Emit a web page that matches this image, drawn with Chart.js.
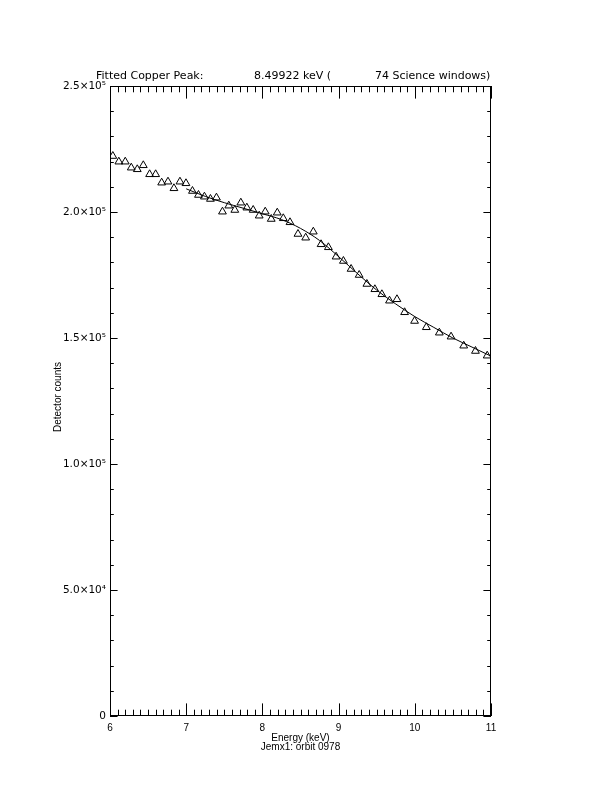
<!DOCTYPE html>
<html>
<head>
<meta charset="utf-8">
<script src="https://cdn.jsdelivr.net/npm/chart.js@4/dist/chart.umd.min.js"></script>
<style>
  html, body { margin: 0; padding: 0; background: #fff; }
  canvas { display: block; }
</style>
</head>
<body>
<canvas id="copperChart" width="612" height="792"></canvas>
<script>
// measured spectrum (keV, detector counts)
const energy = [
  6.037, 6.116, 6.200, 6.279, 6.358, 6.437, 6.520, 6.599, 6.678, 6.761,
  6.839, 6.918, 6.997, 7.082, 7.161, 7.239, 7.318, 7.397, 7.476, 7.559,
  7.638, 7.717, 7.796, 7.879, 7.958, 8.037, 8.116, 8.195, 8.274, 8.362,
  8.467, 8.568, 8.668, 8.770, 8.866, 8.967, 9.063, 9.164, 9.270, 9.371,
  9.476, 9.568, 9.668, 9.766, 9.866, 9.997, 10.151, 10.322, 10.476, 10.642,
  10.796, 10.950
];
const counts = [
  222200, 219960, 219960, 217580, 216940, 218530, 214960, 214960, 211630, 212020,
  209400, 212020, 211390, 208330, 206750, 206070, 205160, 205680, 200120, 202500,
  200790, 203690, 201710, 200790, 198530, 200120, 197220, 199720, 197500, 195910,
  191270, 189800, 192180, 187180, 185990, 182260, 180560, 177380, 175000, 171430,
  169330, 167340, 164800, 165360, 160200, 156750, 154250, 152100, 150520, 146940,
  144840, 142980
];

// fitted curve
const fitEnergy = [7.0, 7.25, 7.5, 7.75, 8.0, 8.25, 8.5, 8.75, 9.0, 9.25, 9.5, 9.75, 10.0, 10.25, 10.5, 10.75, 11.0];
const fitCounts = [209200, 206200, 203700, 201500, 199300, 197000, 193500, 188700, 182300, 175500, 169000, 163500, 158500, 154200, 150000, 146400, 142800];

const xTickValues = [6, 7, 8, 9, 10, 11];
const xTickLabels = ['6', '7', '8', '9', '10', '11'];
const yTickValues = [0, 50000, 100000, 150000, 200000, 250000];
const yTickLabels = ['0', '5.0×10⁴', '1.0×10⁵', '1.5×10⁵', '2.0×10⁵', '2.5×10⁵'];

const titleParts = ['Fitted Copper Peak:', '8.49922 keV (', '74 Science windows)'];
const xTitle = ['Energy (keV)', 'Jemx1: orbit 0978'];
const yTitle = 'Detector counts';

const FONT = '"Liberation Sans", "DejaVu Sans", sans-serif';
const WIDE = '"DejaVu Sans", sans-serif';

// IDL style box: inward ticks on all sides, titles
const idlFrame = {
  id: 'idlFrame',
  afterDraw(chart) {
    const { ctx, chartArea: a, scales } = chart;
    const xs = scales.x, ys = scales.y;
    ctx.save();
    ctx.strokeStyle = '#000';
    ctx.lineWidth = 1;
    ctx.strokeRect(a.left + 0.5, a.top + 0.5, a.width - 1, a.height - 1);

    ctx.beginPath();
    // x ticks every 0.1 keV, major every 1 keV
    for (let i = 0; i <= 50; i++) {
      const v = 6 + i * 0.1;
      const px = Math.round(xs.getPixelForValue(v)) + 0.5;
      const len = (i % 10 === 0) ? 12.6 : 6.3;
      ctx.moveTo(px, a.bottom);
      ctx.lineTo(px, a.bottom - len);
      ctx.moveTo(px, a.top);
      ctx.lineTo(px, a.top + len);
    }
    // y ticks every 1e4, major every 5e4
    for (let i = 0; i <= 25; i++) {
      const v = i * 10000;
      const py = Math.round(ys.getPixelForValue(v)) + 0.5;
      const len = (i % 5 === 0) ? 7.6 : 3.8;
      ctx.moveTo(a.left, py);
      ctx.lineTo(a.left + len, py);
      ctx.moveTo(a.right, py);
      ctx.lineTo(a.right - len, py);
    }
    ctx.stroke();

    ctx.fillStyle = '#000';
    ctx.textBaseline = 'middle';
    ctx.font = '11px ' + WIDE;
    ctx.textAlign = 'left';
    ctx.fillText(titleParts[0], 96, 76);
    ctx.fillText(titleParts[1], 254, 76);
    ctx.fillText(titleParts[2], 375, 76);

    ctx.font = '10px ' + FONT;
    ctx.textAlign = 'center';
    const cx = (a.left + a.right) / 2;
    ctx.fillText(xTitle[0], cx, 738);
    ctx.fillText(xTitle[1], cx, 747);

    ctx.translate(58.5, 397);
    ctx.rotate(-Math.PI / 2);
    ctx.fillText(yTitle, 0, 0);
    ctx.restore();
  }
};

new Chart(document.getElementById('copperChart'), {
  type: 'scatter',
  data: {
    datasets: [
      {
        label: 'counts',
        data: energy.map((e, i) => ({ x: e, y: counts[i] })),
        pointStyle: 'triangle',
        pointRadius: 4.5,
        pointBorderWidth: 1,
        pointBorderColor: '#000',
        pointBackgroundColor: 'rgba(255,255,255,0)',
        showLine: false
      },
      {
        label: 'fit',
        data: fitEnergy.map((e, i) => ({ x: e, y: fitCounts[i] })),
        showLine: true,
        borderColor: '#000',
        borderWidth: 1,
        pointRadius: 0,
        cubicInterpolationMode: 'monotone'
      }
    ]
  },
  options: {
    responsive: false,
    animation: false,
    devicePixelRatio: 1,
    layout: { padding: { top: 86, right: 121, left: 0, bottom: 0 } },
    plugins: { legend: { display: false }, tooltip: { enabled: false }, title: { display: false } },
    scales: {
      x: {
        type: 'linear',
        min: 6,
        max: 11,
        grid: { display: false, drawTicks: false },
        border: { display: false },
        afterBuildTicks: s => { s.ticks = xTickValues.map(v => ({ value: v })); },
        afterFit: s => { s.height = 76; },
        ticks: {
          color: '#000',
          padding: 6,
          maxRotation: 0,
          autoSkip: false,
          font: { family: FONT, size: 10 },
          callback: v => xTickLabels[xTickValues.indexOf(v)]
        }
      },
      y: {
        type: 'linear',
        min: 0,
        max: 250000,
        grid: { display: false, drawTicks: false },
        border: { display: false },
        afterBuildTicks: s => { s.ticks = yTickValues.map(v => ({ value: v })); },
        afterFit: s => { s.width = 110; },
        ticks: {
          color: '#000',
          padding: 4,
          autoSkip: false,
          font: { family: WIDE, size: 10.5 },
          callback: v => yTickLabels[yTickValues.indexOf(v)]
        }
      }
    }
  },
  plugins: [idlFrame]
});
</script>
</body>
</html>
